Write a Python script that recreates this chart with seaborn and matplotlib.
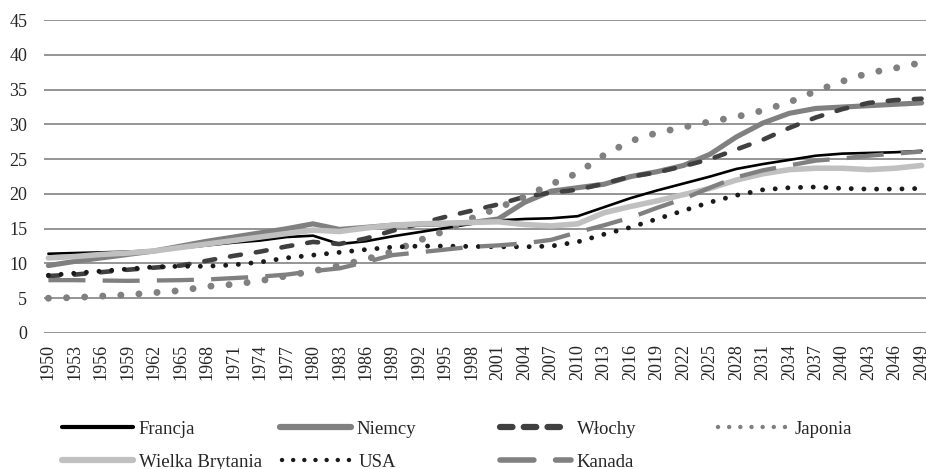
import matplotlib
matplotlib.use("Agg")
import matplotlib.pyplot as plt
from matplotlib.lines import Line2D
import seaborn as sns
import pandas as pd

years = [1950 + 3 * i for i in range(34)]
tick_labels = [str(y) for y in years]

francja = [11.4, 11.5, 11.6, 11.7, 11.9, 12.2, 12.6, 13.0, 13.3, 13.8, 14.0, 12.8,
           13.2, 13.9, 14.5, 15.1, 15.7, 16.2, 16.4, 16.5, 16.8, 18.1, 19.4, 20.5,
           21.5, 22.5, 23.6, 24.3, 24.9, 25.5, 25.8, 25.9, 26.0, 26.2]
niemcy = [9.7, 10.3, 10.8, 11.3, 11.8, 12.5, 13.2, 13.8, 14.4, 15.0, 15.7, 14.9,
          15.2, 15.5, 15.6, 15.7, 15.9, 16.4, 18.8, 20.4, 20.9, 21.4, 22.5, 23.2,
          24.1, 25.7, 28.2, 30.2, 31.6, 32.3, 32.5, 32.7, 32.9, 33.1]
wlochy = [8.2, 8.4, 8.75, 9.1, 9.4, 9.7, 10.4, 11.1, 11.7, 12.45, 13.1, 12.8,
          13.6, 14.7, 15.7, 16.7, 17.6, 18.5, 19.6, 20.2, 20.6, 21.5, 22.5, 23.1,
          24.0, 25.0, 26.4, 27.8, 29.5, 31.0, 32.2, 33.1, 33.5, 33.7]
japonia = [5.0, 5.1, 5.3, 5.5, 5.8, 6.1, 6.7, 7.0, 7.5, 8.2, 8.9, 9.7,
           10.6, 11.7, 13.3, 14.7, 16.5, 18.0, 19.6, 21.4, 23.0, 25.6, 27.6, 28.8,
           29.6, 30.4, 31.1, 32.0, 33.2, 34.8, 36.2, 37.4, 38.1, 38.9]
wielka_brytania = [10.8, 11.0, 11.3, 11.5, 11.8, 12.3, 12.8, 13.3, 13.8, 14.3, 14.8, 14.6,
                   15.1, 15.5, 15.7, 15.8, 15.9, 16.0, 15.6, 15.4, 15.7, 17.3, 18.2, 19.0,
                   19.9, 20.8, 22.0, 22.9, 23.5, 23.7, 23.7, 23.5, 23.7, 24.1]
usa = [8.3, 8.6, 8.9, 9.2, 9.5, 9.6, 9.6, 9.8, 10.2, 10.8, 11.2, 11.6,
       12.0, 12.35, 12.5, 12.5, 12.45, 12.4, 12.4, 12.5, 13.1, 14.2, 15.2, 16.4,
       17.6, 18.8, 19.8, 20.6, 20.9, 21.0, 20.8, 20.7, 20.7, 20.8]
kanada = [7.6, 7.6, 7.55, 7.5, 7.55, 7.6, 7.7, 7.9, 8.1, 8.4, 8.9, 9.3,
          10.2, 11.2, 11.6, 12.0, 12.4, 12.6, 12.9, 13.4, 14.5, 15.5, 16.6, 18.0,
          19.3, 20.9, 22.4, 23.4, 24.1, 24.8, 25.1, 25.5, 25.8, 26.1]

series_names = ["Francja", "Niemcy", "Włochy", "Japonia", "Wielka Brytania", "USA", "Kanada"]
series_values = [francja, niemcy, wlochy, japonia, wielka_brytania, usa, kanada]

styles = {
    "Francja": dict(color="#000000", lw=1.9, linestyle="-", solid_capstyle="round"),
    "Niemcy": dict(color="#808080", lw=3.7, linestyle="-", solid_capstyle="round"),
    "Włochy": dict(color="#404040", lw=3.3, linestyle=(0, (2.4, 3.3)), dash_capstyle="round"),
    "Japonia": dict(color="#808080", lw=5.0, linestyle=(0, (0.01, 2.6)), dash_capstyle="round"),
    "Wielka Brytania": dict(color="#c0c0c0", lw=4.0, linestyle="-", solid_capstyle="round"),
    "USA": dict(color="#1a1a1a", lw=3.5, linestyle=(0, (0.01, 2.6)), dash_capstyle="round"),
    "Kanada": dict(color="#808080", lw=3.1, linestyle=(0, (8.6, 4.0)), dash_capstyle="butt"),
}

legend_styles = {
    "Francja": dict(color="#000000", lw=3.0, linestyle="-", solid_capstyle="round"),
    "Niemcy": dict(color="#808080", lw=4.5, linestyle="-", solid_capstyle="round"),
    "Włochy": dict(color="#404040", lw=4.5, linestyle=(0, (2.0, 1.8)), dash_capstyle="round"),
    "Japonia": dict(color="#808080", lw=3.2, linestyle=(0, (0.01, 2.5)), dash_capstyle="round"),
    "Wielka Brytania": dict(color="#c0c0c0", lw=4.5, linestyle="-", solid_capstyle="round"),
    "USA": dict(color="#1a1a1a", lw=3.2, linestyle=(0, (0.01, 2.5)), dash_capstyle="round"),
    "Kanada": dict(color="#808080", lw=4.0, linestyle=(0, (6.1, 3.9)), dash_capstyle="round"),
}

sns.set_theme(style="white")
plt.rcParams["font.family"] = ["Liberation Serif", "DejaVu Serif"]

fig = plt.figure(figsize=(9.26, 4.69), dpi=100)
ax = fig.add_axes([0.0475, 0.29, 0.9525, 0.667])

for name, vals in zip(series_names, series_values):
    df = pd.DataFrame({"year": years, "value": vals})
    sns.lineplot(data=df, x="year", y="value", ax=ax, legend=False, **styles[name])

ax.set_xlim(1949.5, 2049.5)
ax.set_ylim(0, 45)
ax.set_yticks(range(0, 46, 5))
ax.set_xticks(years)
ax.set_xticklabels(tick_labels, rotation=90, fontsize=13)
ax.tick_params(axis="y", labelsize=13, length=0, pad=12)
ax.tick_params(axis="x", length=0, pad=8)
ax.set_xlabel("")
ax.set_ylabel("")
ax.yaxis.grid(True, color="#8c8c8c", lw=1.3)
ax.xaxis.grid(False)
ax.set_axisbelow(True)
for s in ax.spines.values():
    s.set_visible(False)

positions = {
    "Francja": (62, 429), "Niemcy": (280, 429), "Włochy": (500, 429), "Japonia": (718, 429),
    "Wielka Brytania": (62, 462), "USA": (282, 462), "Kanada": (500, 462),
}
W, H = 926, 469
for name in series_names:
    x, y = positions[name]
    h = Line2D([], [], **legend_styles[name])
    fig.legend([h], [name], loc="center left",
               bbox_to_anchor=(x / W, 1 - y / H), frameon=False,
               fontsize=13.5, handlelength=3.8, handletextpad=0.3,
               borderpad=0, borderaxespad=0)

fig.savefig("out.png", dpi=100)
